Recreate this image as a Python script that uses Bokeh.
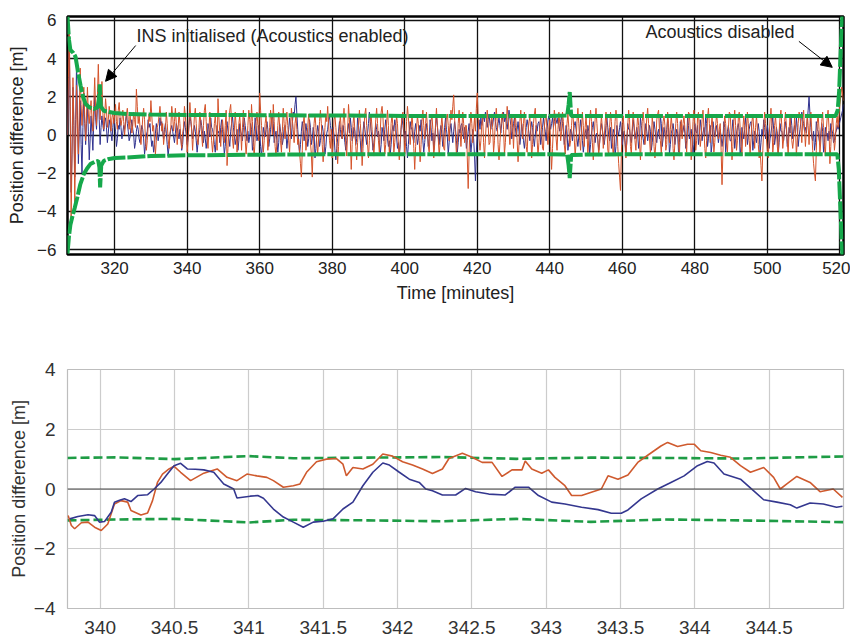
import numpy as np
from bokeh.plotting import figure
from bokeh.layouts import column
from bokeh.models import Range1d, FixedTicker, Span, Label, Arrow, NormalHead
from bokeh.embed import file_html
from bokeh.resources import INLINE

FONT = "Liberation Sans"

# ---------------- top panel data (whole mission, samples every 0.25 min) ----------------
top_x_ticks = [320, 340, 360, 380, 400, 420, 440, 460, 480, 500, 520]
top_y_ticks = [-6, -4, -2, 0, 2, 4, 6]
top_t_start = 307
top_t_end = 521

blue_full = [
    0.0, 2.5, 4.3, 1.0, -3.0, -1.0, 2.5, 0.5, -2.2, 0.8, 3.8, 1.0, -1.5, 0.2, 1.8, -0.5, -2.0, 0.4, 2.2, 0.6,
    -0.5, 0.6, 1.5, 0.2, -1.3, -0.2, 1.0, 0.1, -0.8, 0.7, 2.0, 0.9, 0.3, 1.4, 2.4, 0.8, -0.5, 0.4, 1.0, 0.5,
    0.2, 0.7, 0.9, 0.4, -0.4, 0.1, 0.8, 0.5, 0.1, -0.3, 0.4, 0.9, 0.6, 0.2, -0.6, -0.2, 0.5, 0.3, 0.9, 0.4,
    -0.2, 0.1, 0.5, 0.3, 0.7, 1.1, 0.6, 0.2, -0.3, -0.1, 0.4, 0.8, 0.3, 0.0, -0.7, -0.4, 0.2, 0.5, 0.3, -0.2,
    -0.4, 0.1, 0.5, 0.3, -0.2, -1.0, -0.6, 0.0, 0.2, 0.8, 0.4, 0.6, -0.1, -0.6, -0.3, -0.9, -0.5, 0.1, 0.6, 0.2,
    -0.3, 0.0, 0.9, 0.5, 0.7, 0.2, -0.2, 0.3, 0.6, 0.1, -0.5, -1.1, -0.6, 0.0, 0.3, 0.5, 0.2, -0.1, -0.4, 0.1,
    0.6, 0.4, 0.1, -0.2, 0.3, -0.1, -0.8, -0.5, 0.2, 0.7, 0.4, 0.0, -0.5, -0.2, 0.5, 1.0, 0.7, 0.3, -0.2, 0.1,
    0.5, 0.2, -0.3, -0.9, -0.4, 0.0, 0.3, 0.8, 0.5, 0.1, -0.4, 0.2, -0.2, -0.7, -0.3, 0.6, 0.3, -0.1, 0.9, 0.4,
    0.3, 0.0, -0.5, -0.9, -0.2, 0.5, 0.1, 0.2, -0.4, 0.4, 0.8, 0.3, -0.3, -1.0, -0.6, 0.4, 0.7, 0.2, -0.2, -0.6,
    0.2, 0.6, 1.0, 0.4, 0.0, -0.5, -0.2, 0.3, -0.8, -0.3, 0.6, 0.2, 0.0, -0.3, 0.4, 0.9, 0.5, 0.1, -0.3, 0.2,
    -0.4, -0.1, 0.6, 0.3, -0.8, -0.4, 0.2, 0.9, 0.5, -0.3, -0.1, 0.5, 0.2, -0.6, -1.1, -0.5, 0.4, 0.1, -0.1, 0.3,
    0.7, 0.3, -0.6, -0.2, 0.3, 0.8, 1.1, 0.6, -0.4, 0.0, 0.2, -0.3, -0.9, -0.4, 0.6, 0.2, 0.0, -0.5, -0.2, 0.4,
    0.5, 0.1, -0.7, -0.2, 0.3, 0.9, 0.4, -0.2, 0.6, 1.2, 1.0, 1.6, 2.0, 1.1, 0.3, -0.4, -1.0, -0.5, 0.2, 0.7,
    0.3, -0.3, 0.1, 0.6, 0.2, -0.6, -0.2, 0.8, 0.4, -0.5, -0.2, 0.4, 0.1, -1.2, -0.7, 0.0, 0.5, 0.2, -0.6, -0.3,
    0.1, 0.5, 0.2, -0.4, -1.0, -0.6, 0.1, 0.3, 0.8, 1.0, 0.5, 0.2, -0.2, 0.4, 0.0, -0.8, -1.3, -0.7, -0.2, 0.2,
    0.7, 0.3, -0.1, -0.2, 0.5, 0.1, -0.4, -0.8, -0.3, 0.3, 0.6, 0.1, 0.9, 0.4, -0.3, -0.1, 0.4, 0.2, -0.5, -0.2,
    0.9, 0.5, 0.1, -0.3, -1.1, -0.6, 0.2, 0.7, 0.3, -0.1, -0.5, 0.1, 0.6, 1.2, 0.7, 0.2, -0.2, -0.8, -0.4, 0.0,
    0.6, 0.3, -0.1, 0.2, -0.4, -1.0, -0.5, 0.4, 0.1, -0.3, 0.3, 0.8, 0.4, -0.2, -0.6, -0.3, -1.0, -0.5, 0.2, 0.5,
    0.2, 0.8, 0.5, -0.1, -0.7, -0.4, -1.0, -0.5, 0.3, 0.9, 0.5, 0.1, -0.3, 0.2, -0.6, -1.2, -0.5, 0.2, 0.7, 0.3,
    0.4, -0.1, -0.4, 0.2, 0.6, 0.1, -0.5, -0.2, 0.5, 0.2, 0.8, 0.4, -0.3, -0.9, -0.4, 0.2, 0.6, 0.1, -0.6, -0.2,
    0.8, 0.4, -0.3, 0.1, -0.8, -0.3, 0.4, 1.0, 0.5, -0.1, -0.5, 0.2, 0.5, 0.0, -0.6, -0.2, 0.4, 0.9, 0.3, -0.1,
    -1.0, -0.4, 0.3, 0.6, 0.1, -0.4, 0.2, 0.7, 0.3, -0.3, -0.9, -0.4, 0.3, 0.1, 0.5, 0.6, 0.2, -0.2, 0.4, 0.1,
    -0.7, -0.3, 0.2, 0.6, -0.1, -0.9, -0.4, 0.3, -0.2, -1.1, -2.4, -0.9, 0.2, 0.6, 0.8, 0.3, 0.9, 0.5, 0.8, 1.0,
    0.7, 1.2, 0.9, 0.4, 0.8, 1.1, 0.6, 0.3, 0.8, 0.5, 0.9, 1.2, 0.7, 0.4, 0.2, 0.6, 0.9, 0.5, 0.1, 0.6,
    0.9, 1.2, 0.7, 1.0, 0.6, 0.3, 0.8, 1.3, 0.9, 0.5, -0.2, 0.2, 0.6, 0.9, 0.4, -0.1, 0.3, 0.7, 0.2, -0.5,
    -0.1, 0.6, 0.2, -0.3, -0.7, -0.2, 0.4, 0.8, 0.5, 0.1, -0.3, 0.3, 0.7, 0.4, -0.2, -0.6, 0.0, 0.5, 0.2, 0.6,
    0.7, 0.3, -0.5, -0.1, 0.4, 0.9, 0.5, 0.2, -0.3, 0.3, 0.8, 1.0, 0.6, 0.3, 0.6, 0.9, 0.4, 0.7, 1.1, 0.8,
    0.6, 0.9, 0.5, 0.2, 0.7, 1.0, 0.6, 0.2, -0.5, -0.1, 0.5, 0.2, -0.8, -0.4, -0.1, 0.3, 0.1, -0.3, 0.2, 0.5,
    0.7, 0.3, -0.2, -0.6, -0.1, 0.2, 0.8, 0.4, -0.3, -0.9, -0.4, 0.1, 0.3, -0.2, 0.5, 0.2, -1.0, -0.5, 0.1, 0.4,
    0.7, 0.2, -0.4, 0.0, 0.1, -0.3, -0.8, -0.4, 0.2, 0.6, 0.3, -0.1, -0.5, -0.1, 0.5, 0.9, 0.4, 0.0, -0.3, 0.4,
    -0.7, -0.2, 0.3, 0.1, -1.1, -0.6, 0.5, 0.2, 0.0, 0.4, 0.7, 0.2, -0.5, -0.1, 0.2, -0.3, -0.9, -0.4, 0.6, 0.3,
    0.3, -0.2, -0.4, 0.2, 0.8, 0.4, -0.2, 0.1, 0.4, 0.0, -0.7, -0.3, 0.9, 0.5, 0.1, -0.2, -0.5, 0.1, 0.6, 0.2,
    -0.3, 0.1, 0.5, 0.2, -0.8, -0.4, 0.2, 0.7, 0.3, -0.1, -0.4, 0.1, 0.3, -0.2, 1.0, 0.6, -0.6, -0.2, 0.4, 0.1,
    -0.2, 0.3, 0.8, 0.4, -1.0, -0.5, 0.1, 0.3, 0.6, 0.2, -0.5, -0.1, 0.3, 0.1, -0.9, -0.4, 0.7, 0.3, 0.0, 0.2,
    0.5, 0.1, -0.7, -0.3, 0.9, 0.5, -0.2, 0.1, 0.3, -0.2, -1.0, -0.5, 0.6, 0.2, 0.1, 0.5, -0.5, -0.1, 0.8, 0.4,
    -0.3, 0.1, 0.4, 0.0, 1.0, 0.6, -0.6, -0.2, 0.2, 0.5, -0.9, -0.5, 0.7, 0.3, -0.1, 0.2, 0.5, 0.1, -0.4, 0.0,
    0.3, -0.1, -0.6, -0.2, 0.7, 0.4, -0.9, -0.4, 0.2, 0.5, 0.1, -0.3, -0.3, 0.2, 0.8, 0.3, -0.7, -0.2, 0.1, 0.4,
    0.6, 0.2, -1.1, -0.6, 0.4, 0.1, -0.2, 0.3, 0.9, 0.4, -0.5, -0.1, 0.3, 0.6, 0.7, 0.2, -0.8, -0.3, 0.2, -0.1,
    -0.4, 0.1, 0.6, 0.2, -0.9, -0.4, 0.3, 0.0, 0.8, 0.4, -0.2, 0.2, 0.5, 0.1, -0.7, -0.2, 0.1, 0.5, 0.9, 0.3,
    -0.5, -0.1, 0.4, 0.1, -1.0, -0.4, 0.6, 0.2, 0.2, -0.2, -0.3, 0.3, 0.7, 0.3, -0.6, -0.2, 0.4, 0.1, 1.0, 0.5,
    -0.2, 0.2, 0.5, 0.1, 0.9, 0.4, -0.6, -0.1, 0.3, 0.7, 1.2, 0.8, 0.6, 0.2, 0.4, 0.1, 0.7, 1.3, 2.0, 1.1,
    0.4, -0.1, -0.3, 0.2, -0.8, -0.4, 0.7, 0.3, 0.2, -0.2, -0.5, 0.1, 0.6, 0.2, -0.9, -0.4, 0.4, 0.0, 0.1, -0.3,
    0.2, -0.2, 0.6, 0.3, 0.1, -0.4, -0.3, 0.1, 0.2, 0.5, 0.3, 0.5, 0.7, 0.9, 1.1, 1.3, 1.6,
]

orange_full = [
    0.0, 3.0, 5.5, 1.5, -4.5, -1.0, 3.0, 0.8, -3.5, -0.5, 2.6, 0.4, -1.0, 1.2, 3.5, 1.6, 0.5, 1.4, 2.5, 1.0,
    -0.3, 1.0, 2.5, 1.1, 0.6, 1.3, 1.8, 0.9, 0.2, 1.6, 3.0, 1.4, 0.5, 2.0, 3.7, 1.9, 0.8, 1.7, 2.8, 1.2,
    0.3, 1.0, 1.9, 1.3, 0.4, 0.8, 1.5, 1.1, 0.2, 0.9, 1.2, 0.6, 1.0, 1.6, 0.7, 0.3, 1.3, 1.7, 0.9, 0.5,
    0.8, 1.3, 0.7, 0.0, 0.6, 1.1, 1.4, 0.8, 0.3, 1.0, 0.6, 0.1, 0.5, 1.2, 0.8, 0.4, 2.4, 1.5, 0.6, 1.1,
    0.4, -0.5, 0.1, 0.9, 1.4, 0.8, -0.2, -0.8, -0.3, 0.5, 1.1, 0.7, 1.8, 1.0, 0.2, 0.5, -0.4, -1.0, -0.3, 0.4,
    0.6, 1.0, 1.5, 0.9, 0.2, 0.6, -0.5, 0.0, 0.3, 1.2, 0.6, -0.2, -0.7, 0.1, 0.4, 1.5, 1.0, 0.2, 0.7, 1.4,
    0.6, -0.5, 0.3, 1.2, 0.6, -0.2, -0.7, 0.1, 0.4, 1.5, 1.0, 0.3, -0.9, -0.3, 0.6, 1.7, 0.9, 0.2, -0.8, 0.1,
    1.0, 1.4, 0.6, -0.2, -0.5, 0.4, 1.2, 0.7, 0.0, -0.6, 0.5, 1.3, 1.6, 0.7, -0.2, -0.7, 0.2, 1.2, 0.5, -0.3,
    -0.9, -0.3, 0.6, 1.0, 0.3, -0.8, 1.9, 0.9, 0.1, -0.6, 0.3, 0.8, 0.2, -0.4, 0.5, 1.3, -1.6, -0.7, 0.5, 1.3,
    1.6, 0.7, -0.2, -0.7, 0.2, 1.2, 0.5, -0.9, -0.3, 0.6, 1.0, 0.3, -0.8, 0.4, 1.3, 0.5, -0.2, -1.0, -0.4, 0.5,
    1.3, 0.8, 0.0, 1.6, 0.7, -0.6, -1.1, -0.2, 0.7, 1.2, 0.5, -0.3, 2.2, 1.3, 0.5, -0.2, -0.9, -0.3, 0.6, 1.0,
    0.3, -0.8, -0.2, 0.4, 1.3, 0.8, 0.0, 1.6, 0.7, -0.6, -1.1, -0.4, 0.5, 1.2, 0.5, -0.3, -0.9, 0.2, 1.4, 0.6,
    -0.2, 0.7, 1.2, 0.5, -0.3, -0.9, 0.2, 1.4, 0.8, 0.3, -0.4, 0.6, 1.0, 0.3, -0.5, -0.2, -0.9, -1.5, -2.2, -0.8,
    0.6, 1.0, 0.3, -0.8, -0.3, 0.4, 1.1, 0.6, -0.4, -1.0, -2.2, -0.5, 0.6, 1.1, 0.4, -0.4, -1.0, -0.2, 0.7, 1.3,
    0.6, -0.5, -1.4, -0.6, 0.4, 1.1, 0.7, 1.5, 0.6, -0.3, -0.7, 0.3, -1.2, -0.4, 0.8, 1.0, 0.4, -0.4, -1.5, -0.6,
    0.5, 1.0, 0.3, -0.2, 0.6, 1.4, 0.5, -0.5, -1.1, 0.2, 1.6, 0.8, -0.3, -1.8, -0.5, 0.6, 1.1, 0.2, -0.6, -1.3,
    -0.4, 0.5, 1.3, 0.6, -0.2, -1.6, -0.7, 0.4, 1.1, 1.4, 0.5, -0.5, -1.2, -0.3, 0.8, 1.0, 0.3, -0.5, -1.1, -0.2,
    0.8, 1.4, 0.6, -0.3, -0.9, 0.2, 1.2, 1.5, 0.9, -0.1, -1.0, -0.5, 0.6, 1.3, 0.5, -1.0, -0.4, 0.6, 1.1, 0.4,
    -0.9, -0.4, 0.3, 1.0, 0.6, -0.5, -1.3, -0.4, 0.4, 1.0, 1.2, 0.3, -1.0, -0.4, 0.7, 1.5, 0.9, 0.2, -0.5, 0.3,
    1.1, 0.4, -0.7, -1.8, -0.6, 0.3, 1.0, 0.6, -0.3, -1.4, -0.5, 0.7, 1.3, 0.5, -0.2, 0.6, 1.2, 0.4, -0.6, -0.9,
    0.1, 0.7, 1.1, 0.3, -1.2, -0.5, 0.6, 1.4, 0.5, -0.2, -1.1, -0.4, 0.4, 1.0, 0.3, -0.7, -0.8, 0.4, 0.9, 1.1,
    0.5, -0.3, 0.6, 1.3, 0.8, 1.5, 2.1, 0.9, -0.1, -1.0, -0.5, 0.6, 1.3, 0.2, -0.6, 0.3, 1.2, 0.6, -0.4, 0.5,
    0.5, -1.2, -2.8, -0.9, 0.4, 1.2, 0.6, -0.4, 0.3, 0.9, 0.2, 1.4, 2.2, 0.9, -0.2, -0.8, -0.3, 0.6, 0.9, -0.4,
    -1.2, -0.2, 0.7, 1.3, 0.6, -0.5, -0.4, 0.6, 1.1, 0.4, -0.9, -0.3, 0.8, 1.4, 0.7, -0.5, -1.3, -0.4, 0.4, 1.0,
    1.2, 0.3, -1.0, -0.4, 0.7, 1.5, 0.9, 0.2, -0.5, 0.3, 1.1, 0.4, -0.7, 0.6, 1.0, 0.5, -0.3, -1.4, -0.5, 0.7,
    1.3, 0.5, -0.2, 0.6, 1.2, 0.4, -0.6, -0.9, 0.1, 0.7, 0.9, 0.3, -1.2, -0.5, 0.6, 1.1, 1.4, 0.5, -0.2, -1.1,
    -0.4, 0.4, 1.0, 0.3, -0.7, -0.8, 0.4, 0.9, 1.1, 0.2, -0.5, 0.3, 0.8, -0.6, -1.8, -0.7, 0.4, 1.3, 0.9, -0.2,
    -0.8, 0.3, 1.2, 0.6, -0.3, 0.2, 1.2, 0.7, -0.5, -1.0, -0.2, 0.6, 1.1, 0.4, -0.6, -0.3, 0.5, 1.2, 0.8, -0.2,
    -1.1, -0.4, 0.7, 1.4, 0.6, -0.3, -0.8, 0.3, 1.2, 0.5, -0.6, 0.4, 1.0, 0.2, -1.0, -0.3, 0.8, 1.3, 0.7, -0.4,
    -1.3, -0.2, 0.8, 1.4, 0.6, -0.2, -1.1, -0.4, 0.4, 1.0, 0.3, -0.7, -0.2, 0.6, 1.2, 0.5, -0.8, -1.0, 0.4, 1.2,
    0.7, -0.4, -1.1, -0.3, 0.7, 1.3, 0.9, -0.6, -1.5, -2.2, -2.9, -0.9, 0.6, 1.0, 0.3, -0.5, -1.2, -0.2, 0.5, 1.3,
    0.8, -0.6, -1.0, 0.4, 1.2, 0.6, -0.3, -0.8, 0.3, 1.1, 0.5, -0.4, -1.3, -0.3, 0.7, 1.2, 0.6, -0.5, 0.1, 0.9,
    1.4, 0.6, -0.2, -1.0, -0.3, 0.9, 0.5, -0.6, -1.2, -0.4, 0.8, 1.1, 1.3, 0.2, -0.3, -1.0, 0.0, 0.7, 1.0, 0.5,
    -0.8, -0.5, 1.2, 0.6, -0.4, 0.3, 1.0, 0.4, -0.7, -1.3, -0.4, 0.6, 1.2, 0.6, -0.5, -1.1, 0.3, 0.8, -0.2, 0.6,
    1.0, 0.4, -0.4, -0.9, 0.3, 1.2, 1.1, 0.2, -1.3, -0.6, 0.7, 1.3, 0.5, -0.8, -0.3, 0.9, 1.2, 0.3, -0.6, -0.1,
    0.8, 1.3, 0.4, -0.7, -1.2, -0.3, 0.9, 1.4, 0.6, -0.4, 0.4, 1.0, 0.2, -0.9, -0.4, 0.5, 1.1, 0.6, -0.2, 0.3,
    0.6, -0.8, -2.6, -0.9, 0.4, 1.0, 0.6, -0.4, -0.9, 0.3, 1.2, 1.1, 0.2, -1.3, -0.6, 0.7, 1.3, 0.5, -0.8, -0.3,
    0.9, 1.2, 0.4, -0.5, -1.1, 0.3, 1.0, 0.5, -0.6, 0.2, 1.2, 0.6, -0.3, -1.0, -0.2, 0.7, 1.1, 0.3, -0.7, 0.4,
    1.0, 0.3, -0.5, -1.2, -0.8, -1.6, -2.4, -0.8, 0.4, 1.2, 0.6, -0.2, -0.8, -1.2, -0.1, 0.8, 1.4, 0.6, -0.9, -0.4,
    0.5, 1.0, 0.3, -0.6, -1.1, 0.2, 0.9, 1.3, 0.4, -0.7, -0.2, 0.7, 1.2, 0.5, -0.4, -1.0, 0.3, 0.9, 0.4, -0.3,
    -0.7, -0.2, 0.9, 0.4, -1.1, -0.3, 0.6, 1.2, 1.0, 0.5, -0.4, 0.8, 1.3, 0.3, -0.6, 0.2, 1.1, 0.5, -0.5, 0.6,
    1.2, 0.2, -0.8, -1.5, -2.0, -2.4, -0.8, 0.6, 1.1, 0.3, -1.0, -0.3, 0.7, 1.2, 0.4, -0.6, -1.1, 0.2, 0.9, 1.3,
    0.4, -1.5, -0.6, 0.5, 1.0, 0.2, -0.8, -0.3, 0.6, 1.0, 0.4, 1.0, 1.6, 2.0, 2.5, 2.2, 1.8,
]

# uncertainty bounds (green)
bound_t_upper = [307.0, 307.4, 307.8, 308.6, 309.2, 309.9, 310.6, 311.3, 312.0, 313.0, 314.3, 315.3, 315.7, 315.9,
                 316.2, 317.0, 318.5, 320.0, 323.5, 330.0, 340.0, 360.0, 380.0, 400.0, 420.0, 440.0, 444.8,
                 445.2, 445.5, 445.9, 450.0, 470.0, 490.0, 510.0, 518.8, 519.4, 519.8, 520.1, 520.4, 520.7]
bound_upper = [6.2, 5.0, 4.45, 4.3, 4.1, 3.3, 2.6, 2.0, 1.62, 1.45, 1.36, 1.45, 1.9, 2.65,
               1.5, 1.27, 1.2, 1.15, 1.1, 1.07, 1.05, 1.04, 1.02, 1.0, 1.0, 1.0, 1.02,
               1.6, 2.25, 1.0, 1.0, 1.0, 0.99, 0.99, 1.0, 1.3, 2.3, 3.8, 5.2, 6.3]
bound_t_lower = [307.0, 307.4, 307.8, 308.3, 309.0, 309.7, 310.5, 311.5, 312.4, 313.3, 314.5, 315.5, 315.8, 316.0,
                 316.3, 317.0, 318.5, 320.0, 323.5, 330.0, 340.0, 360.0, 380.0, 400.0, 420.0, 440.0, 444.8,
                 445.2, 445.5, 445.9, 450.0, 470.0, 490.0, 510.0, 519.3, 519.7, 520.0, 520.3, 520.5, 520.7]
bound_lower = [-6.2, -5.3, -4.7, -4.3, -3.8, -3.27, -2.6, -2.04, -1.75, -1.52, -1.4, -1.35, -1.7, -2.74,
               -1.6, -1.35, -1.25, -1.2, -1.17, -1.1, -1.06, -1.03, -1.01, -1.0, -1.0, -1.0, -1.02,
               -1.6, -2.25, -1.05, -1.02, -1.0, -1.0, -1.0, -1.0, -1.8, -3.2, -4.6, -5.6, -6.3]

# ---------------- bottom panel data (zoom 340-345 min) ----------------
zoom_x_ticks = [340, 340.5, 341, 341.5, 342, 342.5, 343, 343.5, 344, 344.5]
zoom_x_labels = {340: "340", 340.5: "340.5", 341: "341", 341.5: "341.5", 342: "342",
                 342.5: "342.5", 343: "343", 343.5: "343.5", 344: "344", 344.5: "344.5"}
zoom_y_ticks = [-4, -2, 0, 2, 4]

blue_zoom_t = [339.795, 339.85, 339.918, 339.962, 339.996, 340.029, 340.074, 340.096, 340.13, 340.163, 340.207,
               340.252, 340.319, 340.363, 340.408, 340.452, 340.497, 340.541, 340.586, 340.64, 340.697, 340.764,
               340.831, 340.898, 340.92, 341.009, 341.06, 341.098, 341.165, 341.232, 341.299, 341.366, 341.433,
               341.5, 341.566, 341.633, 341.7, 341.767, 341.834, 341.901, 341.945, 342.012, 342.079, 342.146,
               342.19, 342.235, 342.302, 342.391, 342.458, 342.525, 342.614, 342.725, 342.792, 342.881, 342.948,
               343.037, 343.126, 343.238, 343.349, 343.438, 343.505, 343.55, 343.639, 343.75, 343.839, 343.928,
               344.018, 344.084, 344.129, 344.196, 344.307, 344.396, 344.463, 344.552, 344.642, 344.686, 344.775,
               344.864, 344.953, 344.993]
blue_zoom = [-1.0, -0.92, -0.86, -0.89, -1.11, -1.09, -0.78, -0.44, -0.38, -0.33, -0.42,
             -0.22, -0.19, 0.0, 0.22, 0.5, 0.78, 0.86, 0.67, 0.66, 0.64, 0.56,
             0.17, 0.0, -0.3, -0.24, -0.22, -0.31, -0.67, -0.94, -1.11, -1.28, -1.11,
             -1.08, -1.0, -0.67, -0.44, 0.11, 0.56, 0.87, 0.8, 0.56, 0.33, 0.22,
             0.0, -0.06, -0.2, -0.2, 0.02, -0.09, -0.17, -0.2, 0.06, 0.06, -0.22,
             -0.44, -0.5, -0.61, -0.69, -0.81, -0.81, -0.7, -0.33, 0.0, 0.22, 0.44,
             0.78, 0.92, 0.87, 0.5, 0.33, -0.06, -0.36, -0.44, -0.53, -0.64, -0.47,
             -0.5, -0.61, -0.58]

orange_zoom_t = [339.784, 339.806, 339.828, 339.873, 339.918, 339.962, 340.007, 340.051, 340.096, 340.14, 340.185,
                 340.207, 340.274, 340.319, 340.352, 340.385, 340.419, 340.463, 340.497, 340.541, 340.608,
                 340.697, 340.787, 340.853, 340.92, 340.987, 341.054, 341.121, 341.165, 341.232, 341.299,
                 341.344, 341.388, 341.455, 341.522, 341.589, 341.633, 341.656, 341.7, 341.767, 341.834,
                 341.901, 341.967, 342.034, 342.101, 342.168, 342.235, 342.302, 342.346, 342.436, 342.502,
                 342.569, 342.636, 342.703, 342.77, 342.837, 342.859, 342.903, 342.97, 343.015, 343.059,
                 343.126, 343.171, 343.238, 343.304, 343.371, 343.416, 343.483, 343.55, 343.616, 343.683,
                 343.772, 343.817, 343.884, 343.951, 343.995, 344.04, 344.107, 344.174, 344.24, 344.307,
                 344.374, 344.463, 344.53, 344.575, 344.619, 344.686, 344.775, 344.842, 344.931, 344.993]
orange_zoom = [-0.89, -1.22, -1.33, -1.13, -1.11, -1.28, -1.39, -1.17, -0.5, -0.39, -0.44,
               -0.72, -0.87, -0.8, -0.39, 0.22, 0.5, 0.67, 0.76, 0.56, 0.28,
               0.53, 0.67, 0.39, 0.28, 0.5, 0.44, 0.39, 0.28, 0.06, 0.11,
               0.17, 0.56, 0.91, 1.0, 1.02, 0.83, 0.44, 0.72, 0.67, 0.83,
               1.17, 1.1, 0.91, 0.8, 0.67, 0.52, 0.67, 1.02, 1.2, 1.06,
               0.89, 0.89, 0.42, 0.64, 0.64, 0.94, 0.67, 0.53, 0.64, 0.39,
               0.11, -0.22, -0.22, -0.11, 0.0, 0.44, 0.33, 0.47, 0.89, 1.13,
               1.44, 1.56, 1.42, 1.5, 1.5, 1.28, 1.22, 1.13, 1.06, 0.78,
               0.56, 0.72, 0.39, 0.0, 0.17, 0.42, 0.22, -0.09, 0.0, -0.28]

zoom_bound_t = [339.78, 340.1, 340.5, 341.0, 341.3, 341.8, 342.3, 342.8, 343.3, 343.8, 344.3, 345.0]
zoom_bound_upper = [1.04, 1.06, 1.0, 1.1, 1.03, 1.05, 1.07, 1.01, 1.05, 1.04, 1.02, 1.09]
zoom_bound_lower = [-1.05, -1.02, -1.0, -1.12, -1.03, -1.05, -1.08, -1.0, -1.1, -1.02, -1.05, -1.11]

BLUE = "#2f318f"
ORANGE = "#d4532a"
GREEN = "#16a84b"
GREEN2 = "#1e9c45"

# ---------------- top figure ----------------
p1 = figure(width=850, height=326, x_range=Range1d(307, 521), y_range=Range1d(-6.25, 6.2),
            output_backend="svg", toolbar_location=None,
            min_border_left=67, min_border_right=7, min_border_top=16, min_border_bottom=72)
p1.background_fill_color = "white"
p1.border_fill_color = "white"
p1.outline_line_color = "black"
p1.outline_line_width = 2.5
p1.xaxis.ticker = FixedTicker(ticks=top_x_ticks)
p1.yaxis.ticker = FixedTicker(ticks=top_y_ticks)
for g in (p1.xgrid, p1.ygrid):
    g.grid_line_color = "#111111"
    g.grid_line_alpha = 1.0
    g.grid_line_width = 1.3
for ax in (p1.xaxis, p1.yaxis):
    ax.axis_line_color = None
    ax.major_tick_line_color = None
    ax.minor_tick_line_color = None
    ax.major_label_text_font = FONT
    ax.major_label_text_font_size = "17px"
    ax.major_label_text_color = "#222222"
    ax.axis_label_text_font = FONT
    ax.axis_label_text_font_size = "18px"
    ax.axis_label_text_font_style = "normal"
    ax.axis_label_text_color = "#222222"
p1.xaxis.axis_label = "Time [minutes]"
p1.yaxis.axis_label = "Position difference [m]"
p1.xaxis.major_label_standoff = 1
p1.xaxis.axis_label_standoff = 6
p1.yaxis.major_label_standoff = 5
p1.yaxis.axis_label_standoff = 7

t_blue = np.linspace(top_t_start, top_t_end, len(blue_full))
t_orange = np.linspace(top_t_start, top_t_end, len(orange_full))
p1.line(t_blue, blue_full, line_color=BLUE, line_width=1.0)
p1.line(t_orange, orange_full, line_color=ORANGE, line_width=1.0)
p1.line(bound_t_upper, bound_upper, line_color=GREEN, line_width=4, line_dash="18 2")
p1.line(bound_t_lower, bound_lower, line_color=GREEN, line_width=4, line_dash="18 2")

p1.add_layout(Label(x=326.0, y=5.2, text="INS initialised (Acoustics enabled)", text_font=FONT,
                    text_font_size="18px", text_baseline="middle", text_color="#222222"))
p1.add_layout(Label(x=466.4, y=5.41, text="Acoustics disabled", text_font=FONT,
                    text_font_size="18px", text_baseline="middle", text_color="#222222"))
p1.add_layout(Arrow(end=NormalHead(size=11, fill_color="black", line_color="black"),
                    x_start=325.8, y_start=4.68, x_end=317.5, y_end=2.81,
                    line_color="black", line_width=1))
p1.add_layout(Arrow(end=NormalHead(size=11, fill_color="black", line_color="black"),
                    x_start=508.7, y_start=4.9, x_end=517.9, y_end=3.54,
                    line_color="black", line_width=1))

# ---------------- bottom figure ----------------
p2 = figure(width=850, height=312, x_range=Range1d(339.78, 345.0), y_range=Range1d(-4, 4),
            output_backend="svg", toolbar_location=None,
            min_border_left=63, min_border_right=7, min_border_top=43, min_border_bottom=30)
p2.background_fill_color = "white"
p2.border_fill_color = "white"
p2.outline_line_color = "#bdbdbd"
p2.outline_line_width = 1.2
p2.xaxis.ticker = FixedTicker(ticks=zoom_x_ticks)
p2.xaxis.major_label_overrides = zoom_x_labels
p2.yaxis.ticker = FixedTicker(ticks=zoom_y_ticks)
for g in (p2.xgrid, p2.ygrid):
    g.grid_line_color = "#cccccc"
    g.grid_line_alpha = 1.0
    g.grid_line_width = 1.2
for ax in (p2.xaxis, p2.yaxis):
    ax.axis_line_color = None
    ax.major_tick_line_color = None
    ax.minor_tick_line_color = None
    ax.major_label_text_font = FONT
    ax.major_label_text_font_size = "19px"
    ax.major_label_text_color = "#333333"
    ax.axis_label_text_font = FONT
    ax.axis_label_text_font_size = "18px"
    ax.axis_label_text_font_style = "normal"
    ax.axis_label_text_color = "#333333"
p2.yaxis.axis_label = "Position difference [m]"
p2.xaxis.major_label_standoff = 6
p2.yaxis.major_label_standoff = 6
p2.yaxis.axis_label_standoff = 2

p2.add_layout(Span(location=0, dimension="width", line_color="#444444", line_width=1))
p2.line(zoom_bound_t, zoom_bound_upper, line_color=GREEN2, line_width=2.6, line_dash="9 4")
p2.line(zoom_bound_t, zoom_bound_lower, line_color=GREEN2, line_width=2.6, line_dash="9 4")
p2.line(orange_zoom_t, orange_zoom, line_color="#cf5a2e", line_width=1.6)
p2.line(blue_zoom_t, blue_zoom, line_color="#34378f", line_width=1.6)

layout = column(p1, p2, spacing=0)
open("out.html", "w").write(file_html(layout, INLINE))
